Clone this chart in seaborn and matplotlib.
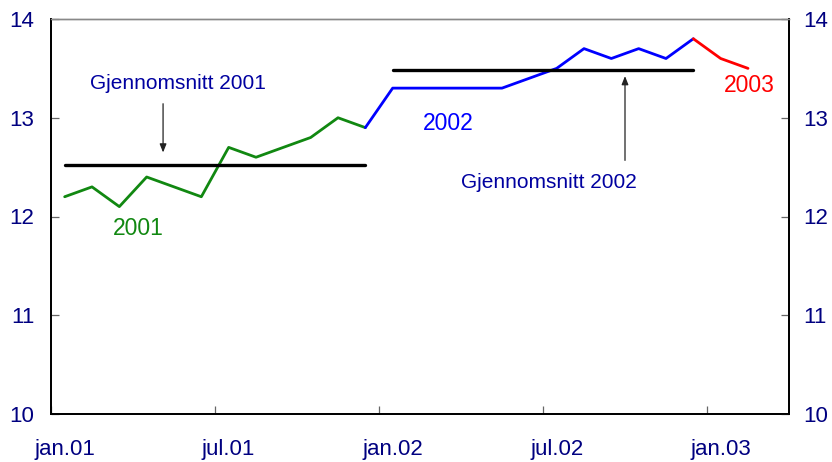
import numpy as np
import matplotlib
matplotlib.use('Agg')
import matplotlib.pyplot as plt
import seaborn as sns

# verdier per måned (jan.01 = 0)
vals_2001 = [12.2, 12.3, 12.1, 12.4, 12.3, 12.2, 12.7, 12.6, 12.7, 12.8, 13.0, 12.9]
vals_2002 = [13.3, 13.3, 13.3, 13.3, 13.3, 13.4, 13.5, 13.7, 13.6, 13.7, 13.6, 13.8]
vals_2003 = [13.6, 13.5]
tick_months = [0, 6, 12, 18, 24]
tick_labels = ['jan.01', 'jul.01', 'jan.02', 'jul.02', 'jan.03']
y_ticks = [10, 11, 12, 13, 14]

navy = '#000080'
txt_blue = '#0000a0'
green = '#118811'

sns.set_style('white')
plt.rcParams['font.family'] = ['Liberation Sans', 'DejaVu Sans']

fig = plt.figure(figsize=(8.32, 4.62), dpi=100)
ax = fig.add_axes([51 / 832, 48 / 462, 738 / 832, 395 / 462])

x01 = np.arange(12) + 0.5
x02 = np.arange(11, 24) + 0.5
x03 = np.arange(23, 26) + 0.5

sns.lineplot(x=x01, y=vals_2001, ax=ax, color=green, lw=2.0)
sns.lineplot(x=x02, y=[vals_2001[-1]] + vals_2002, ax=ax, color='#0000ff', lw=2.0)
sns.lineplot(x=x03, y=[vals_2002[-1]] + vals_2003, ax=ax, color='#ff0000', lw=2.0)

# gjennomsnitt
avg01 = np.mean(vals_2001)
avg02 = np.mean(vals_2002)
ax.plot([x01[0], x01[-1]], [avg01, avg01], color='black', lw=2.4)
ax.plot([12.5, 23.5], [avg02, avg02], color='black', lw=2.4)

ax.annotate('', xy=(4.1, 12.62), xytext=(4.1, 13.17),
            arrowprops=dict(arrowstyle='-|>,head_length=0.5,head_width=0.2',
                            color='#222222', lw=0.9))
ax.text(4.65, 13.35, 'Gjennomsnitt 2001', color=txt_blue, fontsize=15,
        ha='center', va='center')
ax.annotate('', xy=(21.0, 13.45), xytext=(21.0, 12.54),
            arrowprops=dict(arrowstyle='-|>,head_length=0.5,head_width=0.2',
                            color='#222222', lw=0.9))
ax.text(18.2, 12.34, 'Gjennomsnitt 2002', color=txt_blue, fontsize=15,
        ha='center', va='center')

ax.text(3.2, 11.88, '2001', color=green, fontsize=16.5, ha='center', va='center')
ax.text(14.55, 12.94, '2002', color='#0000ff', fontsize=16.5, ha='center', va='center')
ax.text(25.55, 13.33, '2003', color='#ff0000', fontsize=16.5, ha='center', va='center')

ax.set_xlim(0, 27)
ax.set_ylim(10, 14)
# tick-streker ved månedsstart, etiketter midt i måneden
ax.set_xticks(tick_months)
ax.set_xticklabels([])
ax.set_xticks([m + 0.5 for m in tick_months], minor=True)
ax.set_xticklabels(tick_labels, minor=True)
ax.set_yticks(y_ticks)
ax.set_xlabel('')
ax.set_ylabel('')

ax2 = ax.twinx()
ax2.set_ylim(10, 14)
ax2.set_yticks(y_ticks)

for a in (ax, ax2):
    a.tick_params(direction='in', length=6, width=0.9, color='#666666',
                  labelsize=16, labelcolor=navy)
    for s in ['left', 'right', 'bottom']:
        a.spines[s].set_color('black')
        a.spines[s].set_linewidth(1.3)
    a.spines['top'].set_color('#888888')
    a.spines['top'].set_linewidth(1.0)
ax.tick_params(axis='x', which='major', bottom=True, top=False)
ax.tick_params(axis='x', which='minor', bottom=True, length=0, pad=18,
               labelsize=16, labelcolor=navy)
ax.tick_params(axis='y', left=True, right=False, pad=12)
ax2.tick_params(axis='y', right=True, left=False, pad=10)

plt.savefig('out.png', dpi=100)
